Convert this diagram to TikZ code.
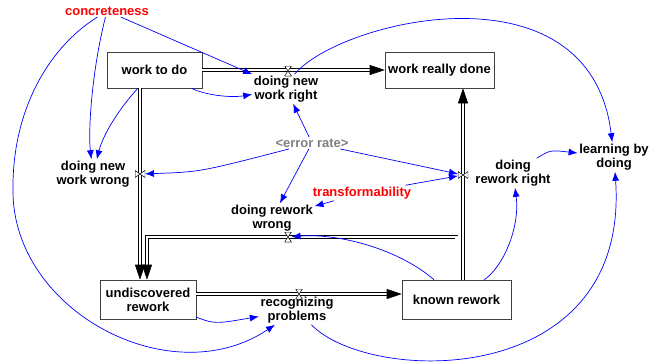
\documentclass[tikz,border=0pt]{standalone}
\usepackage{fontspec}
\setmainfont{Liberation Sans}
\usetikzlibrary{arrows.meta}

\begin{document}
\begin{tikzpicture}[x=1pt, y=-1pt, font=\fontsize{13}{14}\selectfont\bfseries,
	stock/.style={draw=black!75, line width=0.6pt, fill=white, inner sep=0pt},
	aux/.style={align=center, inner sep=1.5pt},
	link/.style={blue, line width=0.7pt, -{Latex[length=9pt, width=7pt]}},
	pipe/.style={double=white, double distance=2.2pt, line width=0.6pt, -{Triangle[length=15pt, width=10pt]}},
	valve/.style={minimum width=7pt, minimum height=10pt, inner sep=0pt, outer sep=0pt,
		path picture={\filldraw[fill=white, line width=0.5pt] (path picture bounding box.north west) -- (path picture bounding box.north east) -- (path picture bounding box.south west) -- (path picture bounding box.south east) -- cycle;}},
	valvev/.style={minimum width=10pt, minimum height=7pt, inner sep=0pt, outer sep=0pt,
		path picture={\filldraw[fill=white, line width=0.5pt] (path picture bounding box.north west) -- (path picture bounding box.south west) -- (path picture bounding box.north east) -- (path picture bounding box.south east) -- cycle;}}]
	\useasboundingbox (0,0) rectangle (650,362);

	% Niveles
		\node[stock, minimum width=95pt, minimum height=36pt] (wtd) at (154.5,70) {work to do};
		\node[stock, minimum width=109pt, minimum height=36pt] (wrd) at (439.5,70) {work really done};
		\node[stock, minimum width=96pt, minimum height=39pt, align=center] (udr) at (148,299.5) {undiscovered\\rework};
		\node[stock, minimum width=109pt, minimum height=39pt] (knr) at (456.5,299.5) {known rework};

	% Flujos
		\coordinate (vnr) at (288,71);
		\coordinate (vnw) at (140,174);
		\coordinate (vrw) at (288,237);
		\coordinate (vrr) at (463,175);
		\coordinate (vrp) at (299,294);
		\coordinate (rwc) at (147,237);
		\draw[pipe] (wtd.east) -- (wrd.west);
		\draw[pipe] (wtd.south -| vnw) -- (udr.north -| vnw);
		\draw[pipe] (knr.north) |- (rwc) -- (rwc |- udr.north);
		\draw[pipe] (knr.north -| vrr) -- (wrd.south -| vrr);
		\draw[pipe] (udr.east |- vrp) -- (knr.west |- vrp);

	% Valvulas
		\node[valve] (vnrv) at (vnr) {};
		\node[valvev] (vnwv) at (vnw) {};
		\node[valve] (vrwv) at (vrw) {};
		\node[valvev] (vrrv) at (vrr) {};
		\node[valve] (vrpv) at (vrp) {};

	% Variables
		\node[aux] (nwr) at (286,89) {doing new\\work right};
		\node[aux] (nww) at (93,174) {doing new\\work wrong};
		\node[aux] (rww) at (272,218) {doing rework\\wrong};
		\node[aux] (rwr) at (513,173) {doing\\rework right};
		\node[aux] (rcp) at (297,310) {recognizing\\problems};
		\node[aux] (lbd) at (614,157) {learning by\\doing};
		\node[aux, red] (cnc) at (107,11) {concreteness};
		\node[aux, red] (trf) at (362,193) {transformability};
		\node[aux, black!50] (err) at (312,143) {<error rate>};

	% Enlaces
		\draw[link] (cnc) -- (nwr);
		\draw[link] (cnc) .. controls (92,70) and (88,130) .. (nww);
		\draw[link] (cnc) .. controls (45,50) and (12,115) .. (13,190) .. controls (12,310) and (170,395) .. (rcp);
		\draw[link] (wtd) .. controls (118,110) and (103,135) .. (nww);
		\draw[link] (wtd) .. controls (205,95) and (230,98) .. (nwr);
		\draw[link] (nwr.60) .. controls (340,20) and (590,-40) .. (lbd);
		\draw[link] (err) -- (nwr);
		\draw[link] (err) .. controls (200,172) .. (vnwv);
		\draw[link] (err) -- (rww);
		\draw[link] (err) -- (vrrv);
		\draw[link] (trf) -- (rww);
		\draw[link] (trf) -- (vrrv);
		\draw[link] (knr) .. controls (400,250) and (340,233) .. (vrwv);
		\draw[link] (knr) .. controls (505,265) and (520,225) .. (rwr);
		\draw[link] (rwr) .. controls (550,150) .. (lbd);
		\draw[link] (rcp) .. controls (370,385) and (630,390) .. (lbd);
		\draw[link] (udr) .. controls (215,324) .. (rcp);
\end{tikzpicture}
\end{document}
